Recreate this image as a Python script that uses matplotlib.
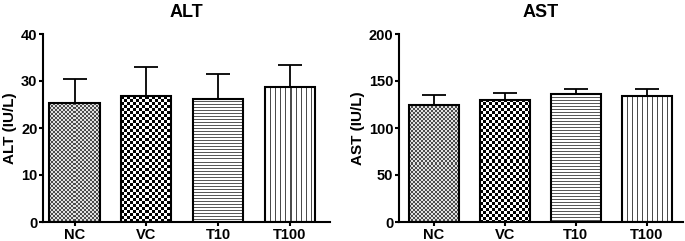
import numpy as np
import matplotlib
matplotlib.use('Agg')
import matplotlib.pyplot as plt

groups = ['NC', 'VC', 'T10', 'T100']
alt_mean = [25.3, 26.8, 26.2, 28.8]
alt_err = [5.1, 6.2, 5.3, 4.6]
ast_mean = [124.5, 129.8, 135.8, 134.4]
ast_err = [10.3, 7.4, 6.0, 7.1]
patterns = ['fine', 'checker', 'hlines', 'vlines']

plt.rcParams['font.family'] = ['Liberation Sans', 'DejaVu Sans']
plt.rcParams['font.weight'] = 'bold'


def make_pattern(kind, h, w):
    # pixel pattern for the bar fill
    yy, xx = np.mgrid[0:h, 0:w]
    if kind == 'fine':
        return np.where((yy // 2 + xx // 2) % 2 == 0, 0.3, 0.88)
    if kind == 'checker':
        return np.where((yy // 3 + xx // 3) % 2 == 0, 0.0, 1.0)
    if kind == 'hlines':
        return np.where(yy % 3 == 0, 0.35, 1.0)
    return np.where(xx % 5 == 0, 0.3, 1.0)


def draw_panel(ax, means, errs, title, ylabel, ymax, step, xlim):
    x = np.arange(len(groups))
    ax.set_xlim(*xlim)
    ax.set_ylim(0, ymax)
    ax.errorbar(x, means, yerr=[np.zeros(len(errs)), errs], fmt='none',
                ecolor='black', elinewidth=1.3, capsize=8.5, capthick=1.3, zorder=1)
    bars = ax.bar(x, means, width=0.7, facecolor='none', edgecolor='black',
                  linewidth=1.5, zorder=3)
    for bar, kind in zip(bars, patterns):
        x0, w, h = bar.get_x(), bar.get_width(), bar.get_height()
        p0 = ax.transData.transform((x0, 0))
        p1 = ax.transData.transform((x0 + w, h))
        wpx = max(int(round(p1[0] - p0[0])), 1)
        hpx = max(int(round(p1[1] - p0[1])), 1)
        img = ax.imshow(make_pattern(kind, hpx, wpx), cmap='gray', vmin=0, vmax=1,
                        extent=(x0, x0 + w, 0, h), origin='upper',
                        interpolation='nearest', aspect='auto', zorder=2)
        img.set_clip_path(bar)
    ax.set_xlim(*xlim)
    ax.set_ylim(0, ymax)
    ax.set_xticks(x)
    ax.set_xticklabels(groups, fontsize=10.5, fontweight='bold')
    ax.set_yticks(np.arange(0, ymax + 1, step))
    ax.tick_params(axis='both', width=1.5, length=3, labelsize=10.5, pad=1)
    for s in ['top', 'right']:
        ax.spines[s].set_visible(False)
    for s in ['left', 'bottom']:
        ax.spines[s].set_linewidth(1.5)
    ax.set_title(title, fontsize=13, fontweight='bold', pad=12)
    ax.set_ylabel(ylabel, fontsize=11, fontweight='bold', labelpad=3)


fig = plt.figure(figsize=(6.85, 2.41), dpi=100)
ax1 = fig.add_axes([43 / 685, 19 / 241, 287 / 685, 188 / 241])
ax2 = fig.add_axes([399 / 685, 19 / 241, 284 / 685, 188 / 241])

draw_panel(ax1, alt_mean, alt_err, 'ALT', 'ALT (IU/L)', 40, 10, (-0.44, 3.56))
draw_panel(ax2, ast_mean, ast_err, 'AST', 'AST (IU/L)', 200, 50, (-0.49, 3.51))

fig.savefig('out.png', dpi=100)
